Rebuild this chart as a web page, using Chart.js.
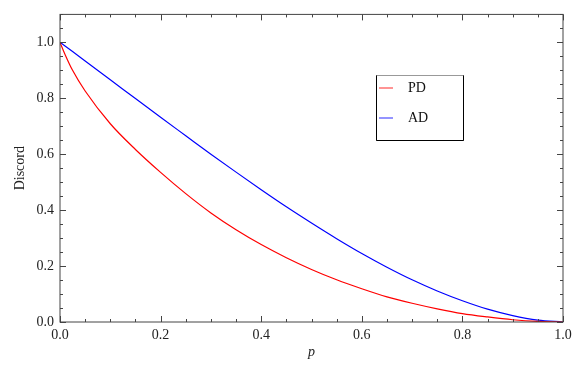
<!DOCTYPE html>
<html>
<head>
<meta charset="utf-8">
<script src="https://cdn.jsdelivr.net/npm/chart.js@4.4.0/dist/chart.umd.min.js"></script>
<style>
  html, body { margin: 0; padding: 0; background: #fff; }
  #wrap { width: 579px; height: 371px; }
</style>
</head>
<body>
<div id="wrap"><canvas id="discordChart"></canvas></div>
<script>
// ===== DATA =====
const pValues  = [0, 0.01, 0.025, 0.05, 0.1, 0.15, 0.2, 0.25, 0.3, 0.35, 0.4, 0.45, 0.5, 0.55, 0.6, 0.65, 0.7, 0.75, 0.8, 0.85, 0.9, 0.95, 1.0];
const pdValues = [1.0, 0.957, 0.9, 0.826, 0.709, 0.617, 0.535, 0.459, 0.39, 0.33, 0.277, 0.23, 0.188, 0.151, 0.119, 0.09, 0.067, 0.047, 0.03, 0.018, 0.008, 0.002, 0];
const adValues = [1.0, 0.987, 0.967, 0.933, 0.866, 0.799, 0.732, 0.666, 0.60, 0.536, 0.473, 0.412, 0.354, 0.298, 0.245, 0.196, 0.151, 0.111, 0.076, 0.046, 0.023, 0.007, 0];
const seriesLabels = ['PD', 'AD'];
const xTicks = [0, 0.2, 0.4, 0.6, 0.8, 1.0];
const yTicks = [0, 0.2, 0.4, 0.6, 0.8, 1.0];

const FONT = 'Liberation Serif';
Chart.defaults.font.family = FONT;
Chart.defaults.font.size = 14;
Chart.defaults.color = '#222';

const toPoints = vals => pValues.map((p, i) => ({ x: p, y: vals[i] }));

// ===== FRAME + INWARD TICKS (all four sides) =====
const frameTicks = {
  id: 'frameTicks',
  afterDatasetsDraw(chart) {
    const { ctx, chartArea: a, scales: { x, y } } = chart;
    ctx.save();
    ctx.strokeStyle = '#444';
    ctx.lineWidth = 1;
    ctx.strokeRect(a.left, a.top, a.right - a.left, a.bottom - a.top);
    ctx.beginPath();
    for (let i = 0; i <= 20; i++) {
      const len = i % 4 === 0 ? 6 : 3;
      const px = Math.round(x.getPixelForValue(i * 0.05)) + 0.5;
      ctx.moveTo(px, a.bottom); ctx.lineTo(px, a.bottom - len);
      ctx.moveTo(px, a.top);    ctx.lineTo(px, a.top + len);
    }
    for (let i = 0; i <= 22; i++) {
      const len = i % 4 === 0 ? 6 : 3;
      const py = Math.round(y.getPixelForValue(i * 0.05)) + 0.5;
      ctx.moveTo(a.left, py);  ctx.lineTo(a.left + len, py);
      ctx.moveTo(a.right, py); ctx.lineTo(a.right - len, py);
    }
    ctx.stroke();
    ctx.restore();
  }
};

// ===== LEGEND BOX =====
const boxLegend = {
  id: 'boxLegend',
  afterDraw(chart) {
    const { ctx } = chart;
    const bx = 376, by = 75, bw = 87, bh = 65;
    ctx.save();
    ctx.fillStyle = '#fff';
    ctx.fillRect(bx, by, bw, bh);
    ctx.strokeStyle = '#999';
    ctx.lineWidth = 1;
    ctx.strokeRect(bx + 0.5, by + 0.5, bw, bh);
    ctx.strokeStyle = '#000';
    ctx.beginPath();
    ctx.moveTo(bx + 0.5, by + 0.5); ctx.lineTo(bx + 0.5, by + bh + 0.5); ctx.lineTo(bx + bw + 0.5, by + bh + 0.5); ctx.lineTo(bx + bw + 0.5, by + 0.5);
    ctx.stroke();
    ctx.font = `14px "${FONT}"`;
    ctx.textBaseline = 'middle';
    ctx.fillStyle = '#111';
    chart.data.datasets.forEach((ds, i) => {
      const ly = by + 13 + i * 30;
      ctx.strokeStyle = ds.legendColor;
      ctx.lineWidth = 1.5;
      ctx.beginPath();
      ctx.moveTo(bx + 3, ly); ctx.lineTo(bx + 17, ly);
      ctx.stroke();
      ctx.fillText(ds.label, bx + 32, ly);
    });
    ctx.restore();
  }
};

new Chart(document.getElementById('discordChart'), {
  type: 'line',
  data: {
    datasets: [
      { label: seriesLabels[0], data: toPoints(pdValues), borderColor: '#ff0000', legendColor: '#ff7070', borderWidth: 1.2, pointRadius: 0, cubicInterpolationMode: 'monotone', fill: false },
      { label: seriesLabels[1], data: toPoints(adValues), borderColor: '#0000ff', legendColor: '#7070ff', borderWidth: 1.2, pointRadius: 0, cubicInterpolationMode: 'monotone', fill: false },
    ]
  },
  options: {
    responsive: true,
    maintainAspectRatio: false,
    animation: false,
    layout: { padding: { top: 11, right: 16, left: 0, bottom: 0 } },
    plugins: { legend: { display: false }, tooltip: { enabled: false } },
    scales: {
      x: {
        type: 'linear', min: 0, max: 1,
        afterBuildTicks: s => { s.ticks = xTicks.map(v => ({ value: v })); },
        afterFit: s => { s.height = 49; },
        ticks: { padding: 5, color: '#222', callback: v => v.toFixed(1) },
        grid: { display: false, drawTicks: false },
        border: { display: false },
        title: { display: true, text: 'p', font: { size: 14, style: 'italic' }, padding: { top: 0, bottom: 10 } }
      },
      y: {
        type: 'linear', min: 0, max: 1.1,
        afterBuildTicks: s => { s.ticks = yTicks.map(v => ({ value: v })); },
        afterFit: s => { s.width = 60; },
        ticks: { padding: 6, color: '#222', callback: v => v.toFixed(1) },
        grid: { display: false, drawTicks: false },
        border: { display: false },
        title: { display: true, text: 'Discord', font: { size: 14 }, padding: { top: 12, bottom: 0 } }
      }
    }
  },
  plugins: [frameTicks, boxLegend]
});
</script>
</body>
</html>
